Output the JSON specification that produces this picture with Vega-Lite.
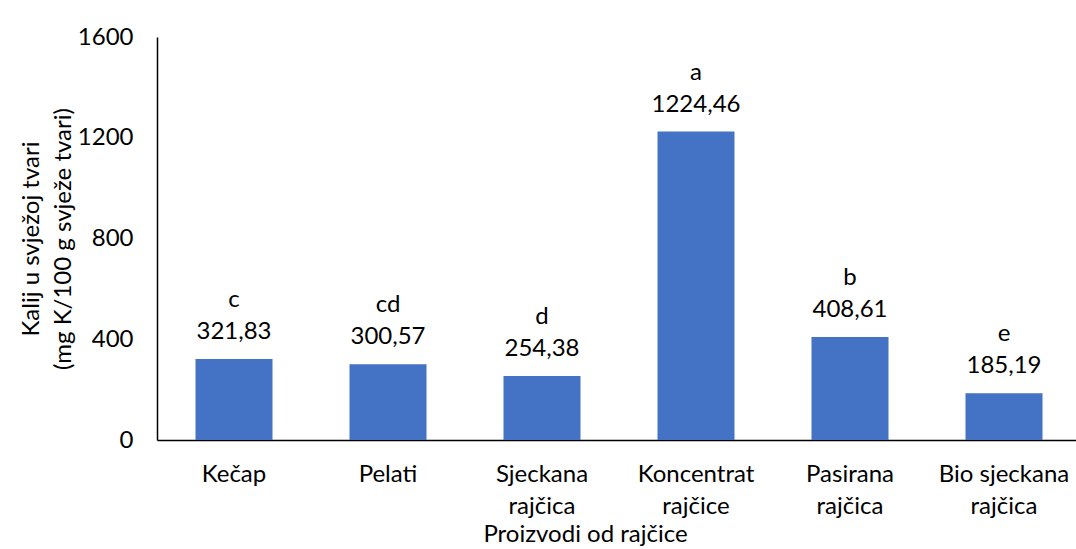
{
  "$schema": "https://vega.github.io/schema/vega-lite/v6.json",
  "autosize": {"type": "none"},
  "padding": {"left": 157, "top": 37, "right": 0, "bottom": 109},
  "width": 924,
  "height": 403,
  "background": "white",
  "config": {
    "view": {"stroke": null},
    "font": "Lato",
    "locale": {"number": {"decimal": ",", "thousands": "", "grouping": [3], "currency": ["", ""]}}
  },
  "data": {
    "values": [
      {"product": "Kečap", "value": 321.83, "group": "c"},
      {"product": "Pelati", "value": 300.57, "group": "cd"},
      {"product": "Sjeckana rajčica", "value": 254.38, "group": "d"},
      {"product": "Koncentrat rajčice", "value": 1224.46, "group": "a"},
      {"product": "Pasirana rajčica", "value": 408.61, "group": "b"},
      {"product": "Bio sjeckana rajčica", "value": 185.19, "group": "e"}
    ]
  },
  "encoding": {
    "x": {
      "field": "product", "type": "nominal", "sort": null,
      "scale": {"paddingInner": 0.5, "paddingOuter": 0.25},
      "axis": {
        "title": "Proizvodi od rajčice",
        "titleFont": "Lato", "titleFontSize": 24, "titleFontWeight": "normal", "titleColor": "#000",
        "titlePadding": 4, "titleX": 428,
        "labelAngle": 0, "labelFontSize": 24, "labelColor": "#000", "labelPadding": 22,
        "labelLineHeight": 32,
        "labelExpr": "datum.label == 'Bio sjeckana rajčica' ? ['Bio sjeckana', 'rajčica'] : split(datum.label, ' ')",
        "ticks": false, "domainColor": "#000", "domainWidth": 1.5
      }
    },
    "y": {
      "field": "value", "type": "quantitative",
      "scale": {"domain": [0, 1600]},
      "axis": {
        "title": ["Kalij u svježoj tvari", "(mg K/100 g svježe tvari)"],
        "titleFontSize": 24, "titleFontWeight": "normal", "titleColor": "#000",
        "titleLineHeight": 32, "titlePadding": 2,
        "values": [0, 400, 800, 1200, 1600],
        "format": "d",
        "labelFontSize": 24, "labelColor": "#000", "labelPadding": 24,
        "ticks": false, "grid": false, "domainColor": "#000", "domainWidth": 1.5
      }
    }
  },
  "layer": [
    {"mark": {"type": "bar", "color": "#4472C4"}},
    {
      "mark": {"type": "text", "fontSize": 24, "color": "#000", "baseline": "alphabetic", "dy": -20},
      "encoding": {"text": {"field": "value", "type": "quantitative", "format": ".2f"}}
    },
    {
      "mark": {"type": "text", "fontSize": 24, "color": "#000", "baseline": "alphabetic", "dy": -52},
      "encoding": {"text": {"field": "group", "type": "nominal"}}
    }
  ]
}
